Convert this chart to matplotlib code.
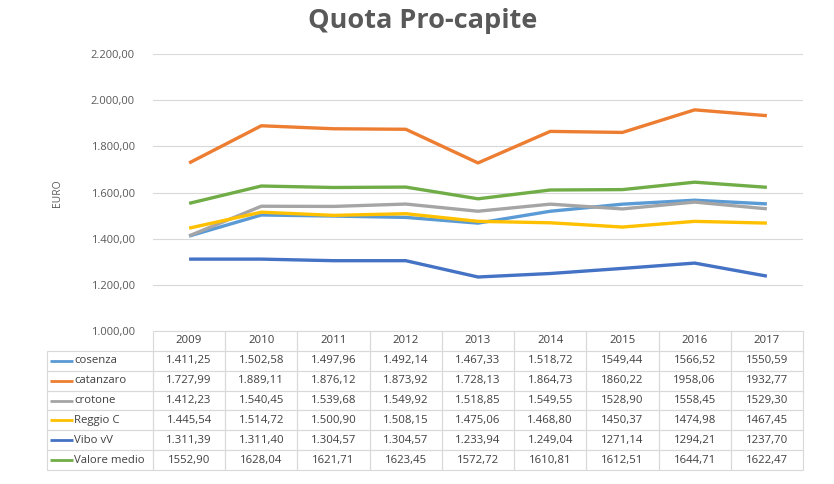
import matplotlib
matplotlib.use('Agg')
import matplotlib.pyplot as plt
from matplotlib.ticker import FuncFormatter

years = [2009, 2010, 2011, 2012, 2013, 2014, 2015, 2016, 2017]
names = ['cosenza', 'catanzaro', 'crotone', 'Reggio C', 'Vibo vV', 'Valore medio']
cosenza = [1411.25, 1502.58, 1497.96, 1492.14, 1467.33, 1518.72, 1549.44, 1566.52, 1550.59]
catanzaro = [1727.99, 1889.11, 1876.12, 1873.92, 1728.13, 1864.73, 1860.22, 1958.06, 1932.77]
crotone = [1412.23, 1540.45, 1539.68, 1549.92, 1518.85, 1549.55, 1528.90, 1558.45, 1529.30]
reggio = [1445.54, 1514.72, 1500.90, 1508.15, 1475.06, 1468.80, 1450.37, 1474.98, 1467.45]
vibo = [1311.39, 1311.40, 1304.57, 1304.57, 1233.94, 1249.04, 1271.14, 1294.21, 1237.70]
medio = [1552.90, 1628.04, 1621.71, 1623.45, 1572.72, 1610.81, 1612.51, 1644.71, 1622.47]
series = [cosenza, catanzaro, crotone, reggio, vibo, medio]
colors = ['#5B9BD5', '#ED7D31', '#A5A5A5', '#FFC000', '#4472C4', '#70AD47']
# last year shown with thousands separator in the table (None = never)
grouped_until = [2014, 2014, 2014, 2014, 2014, None]

FONT = ['Open Sans', 'DejaVu Sans']
TXT = '#595959'


def it_fmt(v, grouped=True):
    if grouped:
        s = f"{v:,.2f}"
        return s.replace(',', 'X').replace('.', ',').replace('X', '.')
    return f"{v:.2f}".replace('.', ',')


W, H = 834, 484
fig = plt.figure(figsize=(W / 100, H / 100), dpi=100)
fig.patch.set_facecolor('white')
ax = fig.add_axes([153 / W, 1 - 331 / H, 650 / W, 277 / H])

x = list(range(len(years)))
for vals, col in zip(series, colors):
    ax.plot(x, vals, color=col, lw=2.4, solid_capstyle='butt', solid_joinstyle='round', zorder=3)

ax.set_xlim(-0.5, len(years) - 0.5)
ax.set_ylim(1000, 2200)
ax.set_yticks(range(1000, 2201, 200))
ax.yaxis.set_major_formatter(FuncFormatter(lambda v, p: it_fmt(v)))
ax.set_xticks([])
ax.yaxis.grid(True, color='#D9D9D9', lw=0.8)
ax.set_axisbelow(True)
for s in ax.spines.values():
    s.set_visible(False)
ax.tick_params(axis='y', length=0, pad=13, labelsize=8, labelcolor=TXT)
for lab in ax.get_yticklabels():
    lab.set_family(FONT)

fig.text(57 / W, 1 - 193 / H, 'EURO', rotation=90, ha='center', va='center',
         fontsize=7.5, color=TXT, family=FONT)
fig.text(423 / W, 1 - 21 / H, 'Quota Pro-capite', ha='center', va='center',
         fontsize=19.5, fontweight='bold', color=TXT, family=FONT)

# data table
cell_text = []
for name, vals, gu in zip(names, series, grouped_until):
    row = [name]
    for yr, v in zip(years, vals):
        row.append(it_fmt(v, gu is not None and yr <= gu))
    cell_text.append(row)
col_labels = [''] + [str(y) for y in years]
label_w, col_w = 106, 650 / len(years)
tot_w = label_w + 650
widths = [label_w / tot_w] + [col_w / tot_w] * len(years)
x0 = -label_w / 650
bw = tot_w / 650
bh = (470 - 331) / 277
y0 = -bh
tbl = ax.table(cellText=cell_text, colLabels=col_labels, colWidths=widths,
               cellLoc='center', bbox=[x0, y0, bw, bh])
tbl.auto_set_font_size(False)
tbl.set_fontsize(8.2)
for (r, c), cell in tbl.get_celld().items():
    cell.set_edgecolor('#D9D9D9')
    cell.set_linewidth(0.8)
    cell.set_facecolor('none')
    t = cell.get_text()
    t.set_color('#404040')
    t.set_family(FONT)
    if c == 0:
        cell._loc = 'left'
        t.set_horizontalalignment('left')
        cell.PAD = 27 / label_w
    if r == 0 and c == 0:
        cell.visible_edges = ''

nrows = len(names) + 1
for i, col in enumerate(colors):
    yc = y0 + bh - (i + 1.5) * bh / nrows
    ax.plot([(50 - 153) / 650, (73 - 153) / 650], [yc, yc], transform=ax.transAxes,
            color=col, lw=2, clip_on=False, zorder=10, solid_capstyle='butt')

fig.savefig('out.png', dpi=100)
